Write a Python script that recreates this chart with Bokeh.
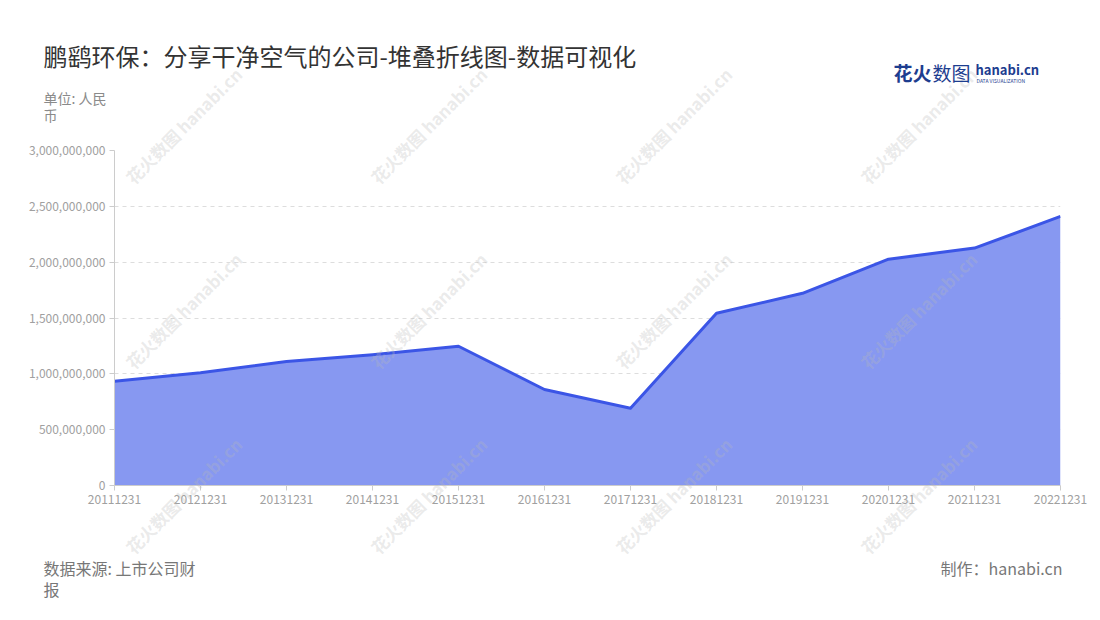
import math
from bokeh.plotting import figure
from bokeh.models import Range1d, FixedTicker, NumeralTickFormatter, Label
from bokeh.layouts import column
from bokeh.embed import file_html
from bokeh.resources import INLINE

# ---- data ----
periods = ["20111231", "20121231", "20131231", "20141231", "20151231", "20161231",
           "20171231", "20181231", "20191231", "20201231", "20211231", "20221231"]
values = [934e6, 1009e6, 1110e6, 1170e6, 1247e6, 860e6,
          692e6, 1542e6, 1721e6, 2027e6, 2126e6, 2410e6]
y_ticks = [0, 500e6, 1000e6, 1500e6, 2000e6, 2500e6, 3000e6]

title_text = "鹏鹞环保：分享干净空气的公司-堆叠折线图-数据可视化"
unit_lines = ["单位: 人民", "币"]
source_lines = ["数据来源: 上市公司财", "报"]
credit_text = "制作：hanabi.cn"
watermark_text = "花火数图 hanabi.cn"

FONT = "Noto Sans CJK SC"
W, H = 1092, 612
FL, FR, FT, FB = 114, 1060, 150, 485   # frame edges (page pixels)

# ---- main chart ----
xs = list(range(len(periods)))
p = figure(width=W, height=H, output_backend="svg", toolbar_location=None,
           x_range=Range1d(0, len(periods) - 1), y_range=Range1d(0, 3000e6),
           min_border_left=FL, min_border_right=W - FR, min_border_top=FT,
           min_border_bottom=H - FB)
p.frame_align = False
p.outline_line_color = None

p.varea(x=xs, y1=0, y2=values, fill_color="#8798f1", fill_alpha=1.0)
p.line(x=xs, y=values, line_color="#3b55e6", line_width=3, line_join="round")

p.xaxis.ticker = FixedTicker(ticks=xs)
p.xaxis.major_label_overrides = {i: s for i, s in enumerate(periods)}
p.yaxis.ticker = FixedTicker(ticks=y_ticks)
p.yaxis.formatter = NumeralTickFormatter(format="0,0")
for ax in (p.xaxis[0], p.yaxis[0]):
    ax.axis_line_color = "#cccccc"
    ax.axis_line_width = 1
    ax.major_tick_line_color = "#cccccc"
    ax.major_tick_in = 0
    ax.major_tick_out = 5
    ax.minor_tick_line_color = None
    ax.major_label_text_color = "#a0a0a0"
    ax.major_label_text_font = FONT
    ax.major_label_text_font_size = "12px"
p.xaxis.major_label_standoff = 4
p.yaxis.major_label_standoff = 4
p.xgrid.grid_line_color = None
p.ygrid.grid_line_color = "#dddddd"
p.ygrid.grid_line_dash = "4 4"

# ---- transparent text layer laid over the chart (frame = whole canvas) ----
t = figure(width=W, height=H, output_backend="svg", toolbar_location=None,
           x_range=Range1d(0, W), y_range=Range1d(0, H),
           min_border=0, min_border_left=0, min_border_right=0,
           min_border_top=0, min_border_bottom=0)
t.frame_align = False
t.axis.visible = False
t.grid.visible = False
t.outline_line_color = None
t.background_fill_alpha = 0
t.border_fill_alpha = 0
t.margin = (-H, 0, 0, 0)

def lab(px, py, text, **kw):
    t.add_layout(Label(x=px, y=H - py, x_units="screen", y_units="screen",
                       text=text, text_font=FONT, text_baseline="middle", **kw))

# watermarks
for cy in (125, 310, 495):
    for cx in (183, 428, 673, 918):
        lab(cx, cy, watermark_text, angle=math.pi / 4, text_align="center",
            text_font_size="17px", text_font_style="bold",
            text_color="#b8b8b8", text_alpha=0.3)

# header texts
lab(43, 55, title_text, text_font_size="24px", text_color="#333333")
for i, s in enumerate(unit_lines):
    lab(43, 97 + i * 17, s, text_font_size="14px", text_color="#8a8a8a")
lab(893, 72, "花火", text_font_size="19px", text_font_style="bold", text_color="#1d3d8f")
lab(932, 72, "数图", text_font_size="19px", text_color="#1d3d8f")
lab(975, 69, "hanabi.cn", text_font_size="13px", text_font_style="bold", text_color="#1d3d8f")
lab(976, 80, "DATA VISUALIZATION", text_font_size="5px", text_color="#1d3d8f")

# footer texts
for i, s in enumerate(source_lines):
    lab(43, 567 + i * 21, s, text_font_size="16px", text_color="#777777")
lab(1062, 567, credit_text, text_font_size="16px", text_color="#777777", text_align="right")

layout = column(p, t, spacing=0)
open("out.html", "w").write(file_html(layout, INLINE))
